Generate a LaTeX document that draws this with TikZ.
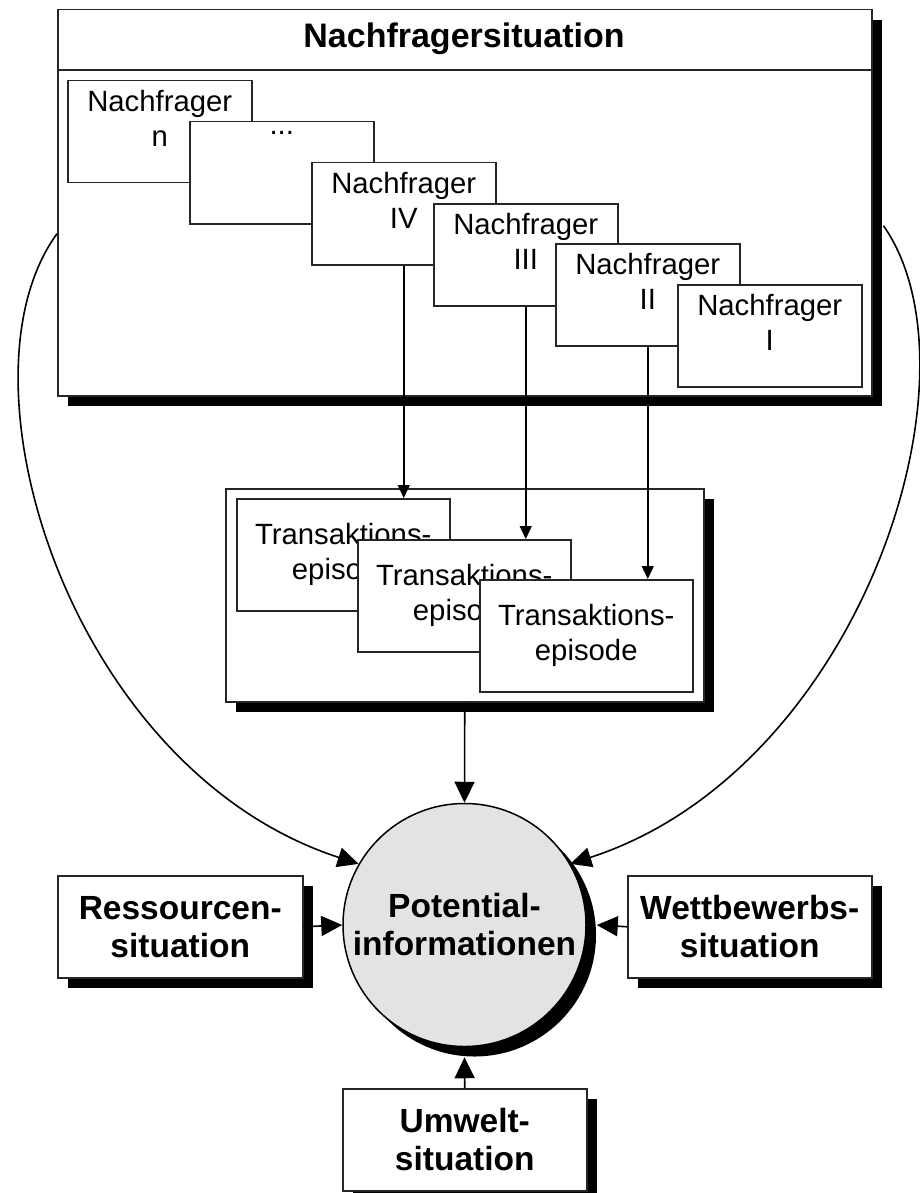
\documentclass[tikz,border=0pt]{standalone}
\usepackage{fontspec}
\setmainfont{Liberation Sans}
\usetikzlibrary{arrows.meta,shadows,calc}

\newcommand{\txtfont}{\fontsize{29.3}{35}\selectfont}
\newcommand{\boldfont}{\fontsize{33.5}{38}\selectfont\bfseries}

\begin{document}
\begin{tikzpicture}[x=1pt,y=-1pt,
  frame/.style={draw=black!85, line width=1.5pt, fill=white, rectangle,
    inner sep=0pt, anchor=north west},
  shadowed/.style={drop shadow={shadow xshift=10pt, shadow yshift=-10pt,
    fill=black, opacity=1}},
  nfbox/.style={frame, minimum width=184pt, minimum height=102pt},
  nftext/.style={anchor=north, inner sep=0pt, align=center, font=\txtfont},
  tbox/.style={frame, minimum width=213pt, minimum height=112pt,
    align=center, font=\txtfont},
  sitbox/.style={frame, shadowed, minimum height=102pt, align=center,
    font=\boldfont},
  thinarrow/.style={draw=black, line width=1.5pt, -{Triangle[length=13pt,width=12pt]}},
  bigarrow/.style={draw=black, line width=1.6pt, -{Triangle[length=21pt,width=20pt]}}
]
\useasboundingbox (0,0) rectangle (919,1193);

% outer frame: Nachfragersituation
\node[frame, shadowed, minimum width=814pt, minimum height=386pt] (nsit) at (57,9) {};
\draw[draw=black!85, line width=1.5pt] ([yshift=-61pt]nsit.north west) -- ([yshift=-61pt]nsit.north east);
\node[anchor=base, inner sep=0pt, font=\fontsize{34}{40}\selectfont\bfseries] (nsittitle) at (464,48) {Nachfragersituation};

% staggered demander boxes
\node[nfbox] (nfn) at (67,80) {};
\node[nftext] (nfnt) at ([yshift=-10pt]nfn.north) {Nachfrager\\n};
\node[nfbox] (nfdots) at (189,121) {};
\node[nftext] (nfdotst) at ([yshift=-10pt]nfdots.north) {...};
\node[nfbox] (nf4) at (311,162) {};
\node[nftext] (nf4t) at ([yshift=-10pt]nf4.north) {Nachfrager\\IV};
\node[nfbox] (nf3) at (433,203) {};
\node[nftext] (nf3t) at ([yshift=-10pt]nf3.north) {Nachfrager\\III};
\node[nfbox] (nf2) at (555,243) {};
\node[nftext] (nf2t) at ([yshift=-10pt]nf2.north) {Nachfrager\\II};
\node[nfbox] (nf1) at (677,284) {};
\node[nftext] (nf1t) at ([yshift=-10pt]nf1.north) {Nachfrager\\I};

% transaction episodes
\node[frame, shadowed, minimum width=478pt, minimum height=213pt] (tep) at (225,488) {};
\node[tbox] (ta) at (236,498) {Transaktions-\\episode};
\node[tbox] (tb) at (357,539) {Transaktions-\\episode};
\node[tbox] (tc) at (479,579) {Transaktions-\\episode};

\draw[thinarrow] (nf4.south) -- (nf4.south |- ta.north);
\draw[thinarrow] (nf3.south) -- (nf3.south |- tb.north);
\draw[thinarrow] (nf2.south) -- (nf2.south |- tc.north);

% central circle
\node[circle, draw=black, line width=1.5pt, fill=black!11, shadowed,
  minimum size=243pt, inner sep=0pt, align=center, font=\boldfont]
  (pot) at (464.5,925) {Potential-\\informationen};

% situation boxes
\node[sitbox, minimum width=245pt] (res) at (57,875) {Ressourcen-\\situation};
\node[sitbox, minimum width=244pt] (wet) at (627,875) {Wettbewerbs-\\situation};
\node[sitbox, minimum width=244pt] (umw) at (342,1088) {Umwelt-\\situation};

% connectors into the circle
\draw[bigarrow] (tep.south) -- (pot.north);
\draw[bigarrow] (res.east) -- (pot.west);
\draw[bigarrow] (wet.west) -- ([xshift=10pt]pot.east);
\draw[bigarrow] (umw.north) -- ([yshift=-10pt]pot.south);
\draw[bigarrow] ([yshift=-31pt]nsit.west) .. controls (-50,380) and (70,770) .. (pot.150);
\draw[bigarrow] ([xshift=11pt,yshift=-23pt]nsit.east) .. controls (988,375) and (860,770) .. (pot.30);
\end{tikzpicture}
\end{document}
